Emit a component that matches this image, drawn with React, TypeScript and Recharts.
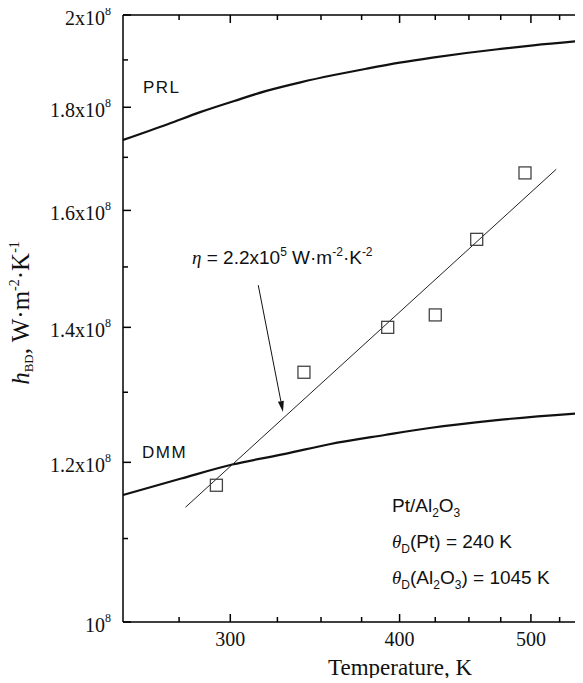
import React from "react";
import { ComposedChart, Line, Scatter, XAxis, YAxis, ReferenceLine } from "recharts";

// axis ticks (log scales on both axes)
const xTicks = [275, 300, 325, 350, 375, 400, 425, 450, 475, 500, 525];
const xMajor = [300, 400, 500];
const yTicks = [1e8, 1.1e8, 1.2e8, 1.3e8, 1.4e8, 1.5e8, 1.6e8, 1.7e8, 1.8e8, 1.9e8, 2e8];
const yMajor = [1e8, 1.2e8, 1.4e8, 1.6e8, 1.8e8, 2e8];
const yTickText = ["10", "", "1.2x10", "", "1.4x10", "", "1.6x10", "", "1.8x10", "", "2x10"];

// PRL model curve
const prlT = [250, 270, 285, 302, 319, 338, 357, 378, 400, 423, 448, 475, 502, 550];
const prlH = [1.734e8, 1.766e8, 1.79e8, 1.813e8, 1.834e8, 1.852e8, 1.867e8, 1.881e8, 1.894e8, 1.905e8, 1.915e8, 1.924e8, 1.932e8, 1.943e8];

// DMM model curve
const dmmT = [250, 276, 301, 330, 355, 390, 421, 470, 550];
const dmmH = [1.156e8, 1.178e8, 1.197e8, 1.212e8, 1.225e8, 1.238e8, 1.248e8, 1.259e8, 1.27e8];

// measured points
const expT = [293, 340, 392, 425, 456, 495];
const expH = [1.169e8, 1.33e8, 1.4e8, 1.42e8, 1.548e8, 1.67e8];

// linear fit, eta = 2.2e5
const fitT = [278, 522];
const fitH = [1.14e8, 1.677e8];

// arrow pointing at the fit line
const arrowT = [314.6, 328.1];
const arrowH = [1.469e8, 1.271e8];

const zip = (ts: number[], hs: number[]) => ts.map((t, i) => ({ t, h: hs[i] }));
const prlData = zip(prlT, prlH);
const dmmData = zip(dmmT, dmmH);
const expData = zip(expT, expH);
const fitData = zip(fitT, fitH);

const serif = "'Liberation Serif', 'Times New Roman', serif";
const sans = "'Liberation Sans', Arial, sans-serif";
const xDomain = [250, 550];
const yDomain = [1e8, 2e8];
const frame = { stroke: "#000", strokeWidth: 1.5 };
const TW = 1.5; // tick thickness

// ticks point into the plot; drawn as thin filled rects
const XTick = (props: any) => {
  const { payload, side } = props;
  const x = Number(props.x);
  const y = Number(props.y);
  const major = xMajor.includes(payload.value);
  const len = major ? 8 : 5;
  const top = side === "top" ? y : y - len;
  return (
    <g>
      <rect x={x - TW / 2} y={top} width={TW} height={len} fill="#000" />
      {side !== "top" && major && (
        <text x={x} y={y + 24} textAnchor="middle" fontFamily={serif} fontSize={20} fill="#111">
          {payload.value}
        </text>
      )}
    </g>
  );
};

const YTick = (props: any) => {
  const { payload, side } = props;
  const x = Number(props.x);
  const y = Number(props.y);
  const major = yMajor.includes(payload.value);
  const len = major ? 8 : 5;
  const left = side === "right" ? x - len : x;
  const idx = yTicks.indexOf(payload.value);
  return (
    <g>
      <rect x={left} y={y - TW / 2} width={len} height={TW} fill="#000" />
      {side !== "right" && major && (
        <text x={x - 12} y={y + 10} textAnchor="end" fontFamily={serif} fontSize={20} fill="#111">
          {yTickText[idx]}
          <tspan dy={-10} fontSize={12}>8</tspan>
        </text>
      )}
    </g>
  );
};

const Square = (props: any) => {
  const { cx, cy } = props;
  return <rect x={cx - 6} y={cy - 6} width={12} height={12} fill="none" stroke="#444" strokeWidth={1.3} />;
};

const Arrow = (props: any) => {
  const { x1, y1, x2, y2 } = props;
  const a = Math.atan2(y2 - y1, x2 - x1);
  const L = 11;
  const w = 3;
  const bx = x2 - L * Math.cos(a);
  const by = y2 - L * Math.sin(a);
  const px = -Math.sin(a) * w;
  const py = Math.cos(a) * w;
  return (
    <g>
      <line x1={x1} y1={y1} x2={bx} y2={by} stroke="#111" strokeWidth={1} />
      <polygon points={`${x2},${y2} ${bx + px},${by + py} ${bx - px},${by - py}`} fill="#111" />
    </g>
  );
};

export default function App() {
  return (
    <div style={{ position: "relative", width: 590, height: 670 }}>
      <ComposedChart width={590} height={670} margin={{ top: 6, right: 10, bottom: 0, left: 0 }}>
        <XAxis xAxisId="b" type="number" dataKey="t" scale="log" domain={xDomain} ticks={xTicks} interval={0} height={56}
          tickSize={0} tickMargin={0} tickLine={false} tick={<XTick side="bottom" />} axisLine={frame} allowDataOverflow />
        <XAxis xAxisId="t" orientation="top" type="number" dataKey="t" scale="log" domain={xDomain} ticks={xTicks} interval={0} height={1}
          tickSize={0} tickMargin={0} tickLine={false} tick={<XTick side="top" />} axisLine={frame} allowDataOverflow />
        <YAxis yAxisId="l" type="number" dataKey="h" scale="log" domain={yDomain} ticks={yTicks} interval={0} width={115}
          tickSize={0} tickMargin={0} tickLine={false} tick={<YTick side="left" />} axisLine={frame} allowDataOverflow />
        <YAxis yAxisId="r" orientation="right" type="number" dataKey="h" scale="log" domain={yDomain} ticks={yTicks} interval={0} width={1}
          tickSize={0} tickMargin={0} tickLine={false} tick={<YTick side="right" />} axisLine={frame} allowDataOverflow />

        <Line xAxisId="b" yAxisId="l" data={prlData} dataKey="h" type="monotone" stroke="#111" strokeWidth={2.2} dot={false} isAnimationActive={false} />
        <Line xAxisId="b" yAxisId="l" data={dmmData} dataKey="h" type="monotone" stroke="#111" strokeWidth={2.2} dot={false} isAnimationActive={false} />
        <Line xAxisId="b" yAxisId="l" data={fitData} dataKey="h" type="linear" stroke="#222" strokeWidth={1} dot={false} isAnimationActive={false} />
        <Scatter xAxisId="b" yAxisId="l" data={expData} dataKey="h" shape={<Square />} isAnimationActive={false} />
        <ReferenceLine
          xAxisId="b"
          yAxisId="l"
          segment={[
            { x: arrowT[0], y: arrowH[0] },
            { x: arrowT[1], y: arrowH[1] },
          ]}
          ifOverflow="visible"
          shape={<Arrow />}
        />
      </ComposedChart>
      <svg
        width={600}
        height={700}
        style={{ position: "absolute", left: -8, top: -8, pointerEvents: "none", overflow: "visible" }}
      >
        <text x={143} y={93} fontFamily={sans} fontSize={17} letterSpacing={1.5} fill="#111">PRL</text>
        <text x={142} y={458} fontFamily={sans} fontSize={17} letterSpacing={1.5} fill="#111">DMM</text>
        <text x={192} y={264} fontFamily={sans} fontSize={19} fill="#111">
          <tspan fontFamily={serif} fontStyle="italic">η</tspan>
          <tspan> = 2.2x10</tspan>
          <tspan dy={-8} fontSize={12}>5</tspan>
          <tspan dy={8}> W·m</tspan>
          <tspan dy={-8} fontSize={12}>-2</tspan>
          <tspan dy={8}>·K</tspan>
          <tspan dy={-8} fontSize={12}>-2</tspan>
        </text>
        <text x={392} y={512} fontFamily={sans} fontSize={19} fill="#111">
          <tspan>Pt/Al</tspan>
          <tspan dy={5} fontSize={12}>2</tspan>
          <tspan dy={-5}>O</tspan>
          <tspan dy={5} fontSize={12}>3</tspan>
        </text>
        <text x={392} y={548} fontFamily={sans} fontSize={19} fill="#111">
          <tspan fontFamily={serif} fontStyle="italic">θ</tspan>
          <tspan dy={5} fontSize={12}>D</tspan>
          <tspan dy={-5}>(Pt) = 240 K</tspan>
        </text>
        <text x={392} y={584} fontFamily={sans} fontSize={19} fill="#111">
          <tspan fontFamily={serif} fontStyle="italic">θ</tspan>
          <tspan dy={5} fontSize={12}>D</tspan>
          <tspan dy={-5}>(Al</tspan>
          <tspan dy={5} fontSize={12}>2</tspan>
          <tspan dy={-5}>O</tspan>
          <tspan dy={5} fontSize={12}>3</tspan>
          <tspan dy={-5}>) = 1045 K</tspan>
        </text>
        <text x={400} y={675} textAnchor="middle" fontFamily={serif} fontSize={23} fill="#111">
          Temperature, K
        </text>
        <text transform="translate(29,313) rotate(-90)" textAnchor="middle" fontFamily={serif} fontSize={25} fill="#111">
          <tspan fontStyle="italic">h</tspan>
          <tspan dy={4} fontSize={13}>BD</tspan>
          <tspan dy={-4}>, W·m</tspan>
          <tspan dy={-10} fontSize={14}>-2</tspan>
          <tspan dy={10}>·K</tspan>
          <tspan dy={-10} fontSize={14}>-1</tspan>
        </text>
      </svg>
    </div>
  );
}
